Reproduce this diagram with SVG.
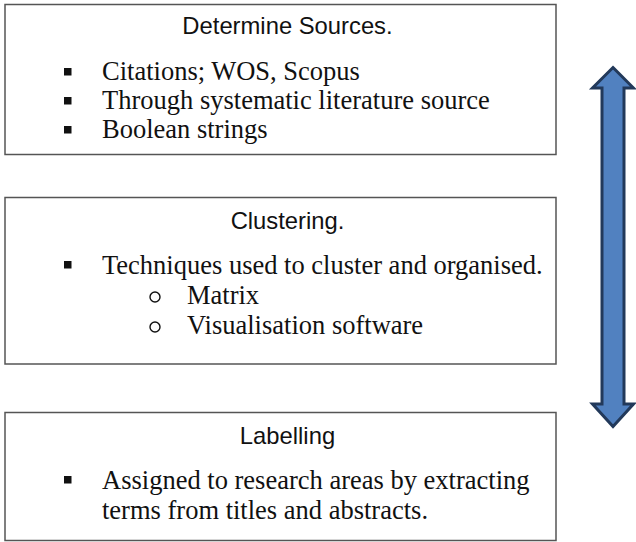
<svg xmlns="http://www.w3.org/2000/svg" width="636" height="542" viewBox="0 0 636 542">
<style>
.box{fill:#fff;stroke:#555;stroke-width:1.5}
.ttl{font-family:"Liberation Sans",Arial,sans-serif;font-size:23.8px;fill:#111;text-anchor:middle}
.bd{font-family:"Liberation Serif","Times New Roman",serif;font-size:26.5px;fill:#111}
.sq{fill:#111}
.ci{fill:none;stroke:#111;stroke-width:1.4}
.arr{fill:#5181c0;stroke:#22395a;stroke-width:3;stroke-linejoin:miter}
</style>
<rect width="636" height="542" fill="#fff"/>
<g id="node-sources">
<rect class="box" x="5" y="4.5" width="551" height="150"/>
<text class="ttl" x="287.5" y="34">Determine Sources.</text>
<rect class="sq" x="64" y="68" width="7.5" height="7.5"/>
<text class="bd" x="102" y="80">Citations; WOS, Scopus</text>
<rect class="sq" x="64" y="97" width="7.5" height="7.5"/>
<text class="bd" x="102" y="109">Through systematic literature source</text>
<rect class="sq" x="64" y="126" width="7.5" height="7.5"/>
<text class="bd" x="102" y="138">Boolean strings</text>
</g>
<g id="node-clustering">
<rect class="box" x="5" y="197.5" width="551" height="166.5"/>
<text class="ttl" x="287.5" y="229">Clustering.</text>
<rect class="sq" x="64" y="261" width="7.5" height="7.5"/>
<text class="bd" x="102" y="274">Techniques used to cluster and organised.</text>
<circle class="ci" cx="155" cy="297" r="5"/>
<text class="bd" x="187" y="304">Matrix</text>
<circle class="ci" cx="155" cy="327" r="5"/>
<text class="bd" x="187" y="334">Visualisation software</text>
</g>
<g id="node-labelling">
<rect class="box" x="5" y="412.5" width="551" height="128"/>
<text class="ttl" x="287.5" y="444">Labelling</text>
<rect class="sq" x="64" y="476" width="7.5" height="7.5"/>
<text class="bd" x="102" y="489">Assigned to research areas by extracting</text>
<text class="bd" x="102" y="519">terms from titles and abstracts.</text>
</g>
<g id="connectors">
<polygon class="arr" points="613,67.5 633.5,88 624,88 624,404 633.5,404 613,426.5 592.5,404 602,404 602,88 592.5,88"/>
</g>
</svg>
